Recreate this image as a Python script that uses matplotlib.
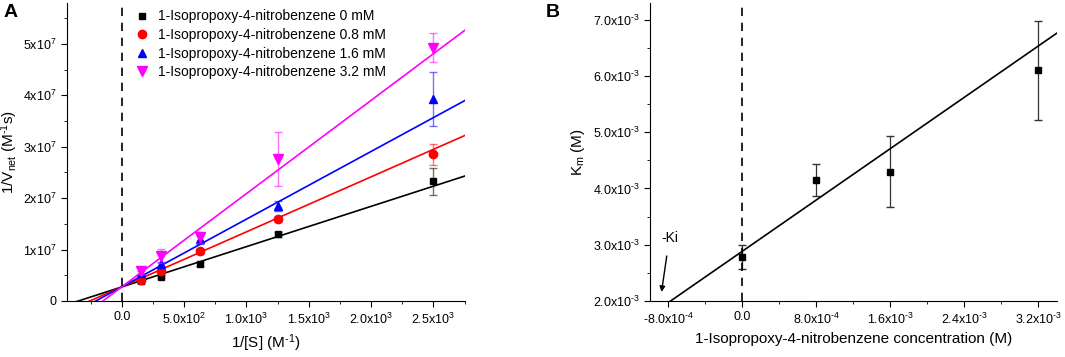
import numpy as np
import matplotlib
matplotlib.use("Agg")
import matplotlib.pyplot as plt
from matplotlib.ticker import FuncFormatter, MultipleLocator

plt.rcParams['font.family'] = ['Liberation Sans', 'DejaVu Sans']
plt.rcParams['mathtext.fontset'] = 'custom'
plt.rcParams['mathtext.rm'] = 'Liberation Sans'
plt.rcParams['mathtext.it'] = 'Liberation Sans'
plt.rcParams['axes.unicode_minus'] = False

HY = '\u2010'  # plain hyphen so mathtext does not turn it into a long minus

# ---- panel A data: Lineweaver-Burk ----
inv_s = [156.25, 312.5, 625, 1250, 2500]
conc_labels = ['0 mM', '0.8 mM', '1.6 mM', '3.2 mM']
inv_v = [
    [3.88e6, 4.72e6, 7.12e6, 12.94e6, 23.3e6],
    [4.07e6, 5.88e6, 9.70e6, 15.97e6, 28.5e6],
    [5.37e6, 7.12e6, 11.97e6, 18.5e6, 39.3e6],
    [5.88e6, 8.73e6, 12.4e6, 27.6e6, 49.3e6],
]
inv_v_err = [
    [0.3e6, 0.3e6, 0.4e6, 0.5e6, 2.6e6],
    [0.3e6, 0.4e6, 0.5e6, 0.6e6, 2.1e6],
    [0.4e6, 0.5e6, 0.8e6, 1.0e6, 5.2e6],
    [0.6e6, 1.3e6, 1.1e6, 5.2e6, 2.8e6],
]
fit_slope = [7.84e3, 10.7e3, 13.17e3, 18.14e3]
fit_icpt = [2.73e6, 2.75e6, 2.75e6, 2.75e6]

# ---- panel B data: secondary plot ----
inhib = [0.0, 8e-4, 1.6e-3, 3.2e-3]
km = [2.78e-3, 4.15e-3, 4.30e-3, 6.10e-3]
km_err = [0.22e-3, 0.28e-3, 0.63e-3, 0.88e-3]
km_slope = 1.14
km_icpt = 2.885e-3

colors = ['black', 'red', 'blue', 'magenta']
markers = ['s', 'o', '^', 'v']
sizes = [5, 6, 6, 6.5]


def sci_fmt(digits):
    def f(v, pos):
        if abs(v) < 1e-12:
            return '0.0' if digits > 0 else '0'
        e = int(np.floor(np.log10(abs(v)) + 1e-9))
        m = v / 10 ** e
        ms = ('%.*f' % (digits, m)).replace('-', HY)
        es = str(e).replace('-', HY)
        return r'$\mathregular{%sx10^{%s}}$' % (ms, es)
    return f


def style(ax):
    for s in ['top', 'right']:
        ax.spines[s].set_visible(False)
    ax.tick_params(which='both', direction='out', labelsize=9)
    ax.tick_params(which='major', length=4)
    ax.tick_params(which='minor', length=2.5)


fig = plt.figure(figsize=(10.65, 3.57), dpi=100)
axA = fig.add_axes([0.0629, 0.157, 0.3737, 0.835])
axB = fig.add_axes([0.6103, 0.157, 0.382, 0.835])

# panel A
xx = np.array([-440, 2753])
for i in range(4):
    axA.errorbar(inv_s, inv_v[i], yerr=inv_v_err[i], fmt='none',
                 ecolor=colors[i], alpha=0.55, elinewidth=1, capsize=3)
    axA.plot(inv_s, inv_v[i], ls='none', marker=markers[i], color=colors[i],
             ms=sizes[i], label='1-Isopropoxy-4-nitrobenzene ' + conc_labels[i])
    axA.plot(xx, fit_slope[i] * xx + fit_icpt[i], color=colors[i], lw=1.2)
axA.axvline(0, color='black', ls=(0, (5, 4)), lw=1.2)
axA.set_xlim(-440, 2753)
axA.set_ylim(0, 5.8e7)
axA.xaxis.set_major_locator(MultipleLocator(500))
axA.xaxis.set_minor_locator(MultipleLocator(250))
axA.yaxis.set_major_locator(MultipleLocator(1e7))
axA.yaxis.set_minor_locator(MultipleLocator(5e6))
axA.xaxis.set_major_formatter(FuncFormatter(sci_fmt(1)))
axA.yaxis.set_major_formatter(FuncFormatter(sci_fmt(0)))
style(axA)
axA.set_xlabel(r'1/[S] (M$^{\mathregular{%s1}}$)' % HY, fontsize=11, labelpad=4)
axA.set_ylabel(r'1/V$_{\mathregular{net}}$ (M$^{\mathregular{%s1}}$s)' % HY, fontsize=11)
axA.yaxis.set_label_coords(-0.117, 0.5)
axA.legend(loc='upper left', bbox_to_anchor=(0.135, 1.02), frameon=False,
           fontsize=10, handletextpad=0.6, labelspacing=0.33, handlelength=1.2)

# panel B
xb = np.array([-1.0e-3, 3.4e-3])
axB.errorbar(inhib, km, yerr=km_err, fmt='none', ecolor='#333333',
             elinewidth=0.9, capsize=3)
axB.plot(inhib, km, ls='none', marker='s', color='black', ms=5)
axB.plot(xb, km_slope * xb + km_icpt, color='black', lw=1.2)
axB.axvline(0, color='black', ls=(0, (5, 4)), lw=1.2)
axB.set_xlim(-1.0e-3, 3.4e-3)
axB.set_ylim(2.0e-3, 7.3e-3)
axB.xaxis.set_major_locator(MultipleLocator(8e-4))
axB.xaxis.set_minor_locator(MultipleLocator(4e-4))
axB.yaxis.set_major_locator(MultipleLocator(1e-3))
axB.yaxis.set_minor_locator(MultipleLocator(5e-4))
axB.xaxis.set_major_formatter(FuncFormatter(sci_fmt(1)))
axB.yaxis.set_major_formatter(FuncFormatter(sci_fmt(1)))
style(axB)
axB.set_xlabel('1-Isopropoxy-4-nitrobenzene concentration (M)', fontsize=11, labelpad=4)
axB.set_ylabel(r'K$_{\mathregular{m}}$ (M)', fontsize=11, labelpad=4)
axB.annotate('-Ki', xy=(-8.75e-4, 2.16e-3), xytext=(-7.9e-4, 3.12e-3),
             fontsize=10, ha='center', va='center',
             arrowprops=dict(arrowstyle='-|>', color='black', lw=1,
                             shrinkA=6, shrinkB=0, mutation_scale=8))

fig.text(0.003, 0.965, 'A', fontsize=14, fontweight='bold', va='center')
fig.text(0.512, 0.965, 'B', fontsize=14, fontweight='bold', va='center')

fig.savefig('out.png', dpi=100)
